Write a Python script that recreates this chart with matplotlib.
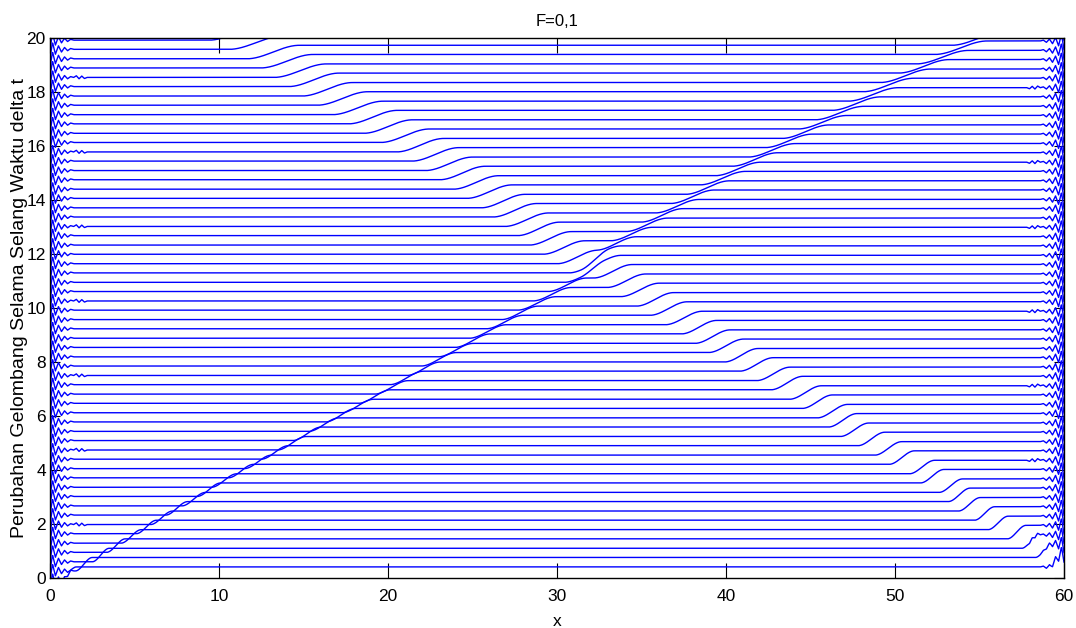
import numpy as np
import matplotlib.pyplot as plt

# level of each time step (middle level between the two fronts)
base = [0.41, 0.76, 1.10, 1.45, 1.79, 2.14, 2.48, 2.83, 3.17, 3.52,
        3.86, 4.21, 4.55, 4.90, 5.24, 5.59, 5.93, 6.28, 6.62, 6.97,
        7.31, 7.66, 8.00, 8.35, 8.69, 9.04, 9.38, 9.73, 10.07, 10.42,
        10.76, 11.11, 11.45, 11.80, 12.14, 12.49, 12.83, 13.18, 13.52, 13.87,
        14.21, 14.56, 14.90, 15.25, 15.59, 15.94, 16.28, 16.63, 16.97, 17.32,
        17.66, 18.01, 18.35, 18.70, 19.04, 19.39, 19.73, 20.08, 20.42]

# position of the right-moving front for each line
front_r = [1.1, 2.0, 3.0, 3.9, 4.8, 5.7, 6.6, 7.5, 8.5, 9.4,
           10.3, 11.3, 12.3, 13.3, 14.3, 15.2, 16.2, 17.2, 18.2, 19.2,
           20.2, 21.1, 22.1, 23.0, 24.0, 25.0, 25.9, 26.9, 27.8, 28.8,
           29.7, 30.6, 31.6, 32.6, 33.5, 34.4, 35.3, 36.2, 37.1, 38.0,
           38.9, 39.8, 40.7, 41.7, 42.7, 43.7, 44.7, 45.7, 46.7, 47.7,
           48.7, 49.6, 50.6, 51.7, 52.8, 53.9, 54.9, 56.0, 57.1]

# position of the left-moving front for each line
front_l = [59.5, 58.8, 58.0, 57.2, 56.1, 55.3, 54.4, 53.8, 53.3, 52.2,
           51.6, 50.4, 49.6, 48.6, 47.6, 46.9, 46.3, 45.4, 44.7, 43.6,
           42.8, 41.8, 40.9, 40.0, 39.2, 38.4, 37.5, 36.6, 35.8, 34.9,
           34.1, 33.3, 32.6, 31.9, 31.2, 30.4, 29.6, 28.9, 28.2, 27.5,
           26.8, 26.0, 25.2, 24.4, 23.6, 22.8, 21.9, 21.0, 20.0, 19.1,
           18.2, 17.3, 16.4, 15.6, 14.8, 14.0, 13.2, 12.2, 11.0]

# width of the front ramp for each line
front_w = [0.9, 1.0, 1.0, 1.1, 1.2, 1.2, 1.3, 1.3, 1.4, 1.4,
           1.5, 1.5, 1.6, 1.6, 1.7, 1.7, 1.8, 1.8, 1.9, 1.9,
           2.0, 2.0, 2.0, 2.1, 2.1, 2.1, 2.2, 2.2, 2.2, 2.3,
           2.3, 2.3, 2.4, 2.4, 2.4, 2.5, 2.5, 2.5, 2.6, 2.6,
           2.6, 2.7, 2.7, 2.7, 2.8, 2.8, 2.8, 2.9, 2.9, 2.9,
           3.0, 3.0, 3.0, 3.0, 3.1, 3.1, 3.1, 3.2, 3.2]

step_h = 0.5  # height of each front

# oscillation next to the boundaries (distance from wall, offset)
wig_x = [0.0, 0.15, 0.32, 0.5, 0.68, 0.86, 1.04, 1.22, 1.4]
wig_y = [-0.32, 0.26, -0.18, 0.13, -0.1, 0.07, -0.05, 0.03, 0.0]
long_x = [1.4, 1.56, 1.72, 1.88, 2.04, 2.2]
long_y = [0.0, 0.06, -0.05, 0.05, -0.04, 0.0]
long_left = [6, 14, 22, 30, 38, 46, 54]
long_right = [2, 10, 18, 26, 35, 42, 50]

plt.rcParams['font.family'] = ['Liberation Sans Narrow', 'Liberation Sans', 'DejaVu Sans']

fig = plt.figure(figsize=(10.76, 6.28), dpi=100)
ax = fig.add_axes([50 / 1076, 50 / 628, 1014 / 1076, 540 / 628])

x = np.linspace(0, 60, 3001)


def ramp(t):
    t = np.clip(t, 0, 1)
    return t * t * (3 - 2 * t)


for k in range(len(base)):
    w = front_w[k]
    u = base[k] - step_h
    u = u + step_h * ramp((x - front_r[k] + w / 2) / w)
    u = u + step_h * ramp((x - front_l[k] + w / 2) / w)
    u = u + np.interp(x, wig_x, wig_y, right=0)
    u = u + np.interp(60 - x, wig_x, wig_y, right=0)
    if k in long_left:
        u = u + np.interp(x, long_x, long_y, left=0, right=0)
    if k in long_right:
        u = u + np.interp(60 - x, long_x, long_y, left=0, right=0)
    ax.plot(x, u, color='#0000ff', linewidth=1.0)

ax.set_xlim(0, 60)
ax.set_ylim(0, 20)
ax.set_xticks(range(0, 61, 10))
ax.set_yticks(range(0, 21, 2))
ax.tick_params(axis='both', direction='in', top=True, right=True,
               labelsize=12.5, width=0.8, color='black')
ax.tick_params(axis='x', length=11, pad=8)
ax.tick_params(axis='y', length=7, pad=3)
for sp in ax.spines.values():
    sp.set_linewidth(1.0)

ax.set_title('F=0,1', fontsize=12, pad=9)
ax.set_xlabel('x', fontsize=12.5, labelpad=7)
ax.set_ylabel('Perubahan Gelombang Selama Selang Waktu delta t',
              family=['Liberation Sans', 'DejaVu Sans'], fontsize=14, labelpad=-1)

fig.savefig('out.png', dpi=100)
